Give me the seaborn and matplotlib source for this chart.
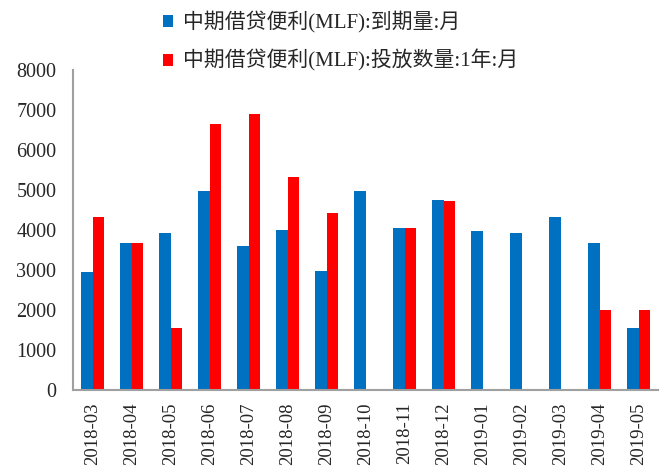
import numpy as np
import pandas as pd
import matplotlib
matplotlib.use("Agg")
import matplotlib.pyplot as plt
from matplotlib.patches import Patch
import seaborn as sns

months = ["2018-03", "2018-04", "2018-05", "2018-06", "2018-07", "2018-08", "2018-09",
          "2018-10", "2018-11", "2018-12", "2019-01", "2019-02", "2019-03", "2019-04", "2019-05"]
maturity = [2950, 3670, 3925, 4985, 3605, 3990, 2980, 4985, 4040, 4760, 3980, 3930, 4325, 3670, 1560]
issuance = [4325, 3670, 1560, 6640, 6910, 5320, 4415, np.nan, 4040, 4735, np.nan, np.nan, np.nan, 2000, 2000]
series_names = ["中期借贷便利(MLF):到期量:月", "中期借贷便利(MLF):投放数量:1年:月"]
colors = ["#0070C0", "#FF0000"]
yticks = [0, 1000, 2000, 3000, 4000, 5000, 6000, 7000, 8000]

sns.set_style("white")
plt.rcParams['font.family'] = ['Liberation Serif', 'Noto Sans CJK SC', 'DejaVu Sans']

df = pd.DataFrame({
    "month": months * 2,
    "value": list(maturity) + list(issuance),
    "series": [series_names[0]] * len(months) + [series_names[1]] * len(months),
})

fig = plt.figure(figsize=(6.62, 4.72), dpi=100)
ax = fig.add_axes([73 / 662, 1 - 390 / 472, (658 - 73) / 662, 320 / 472])

sns.barplot(data=df, x="month", y="value", hue="series", order=months,
            hue_order=series_names, palette=colors, width=0.57,
            saturation=1, edgecolor="none", linewidth=0, ax=ax, legend=False)

ax.set_xlim(-0.5, len(months) - 0.5)
ax.set_ylim(0, 8000)
ax.set_yticks(yticks)
ax.set_yticklabels([str(v) for v in yticks], fontsize=14.5)
ax.set_xlabel("")
ax.set_ylabel("")

ax.set_xticks(range(len(months)))
ax.set_xticklabels(months, rotation=90, fontsize=13.5, va="top")
ax.set_xticks(np.arange(-0.5, len(months), 1.0), minor=True)
ax.tick_params(axis="x", which="major", length=0, pad=9)
ax.tick_params(axis="x", which="minor", length=5, width=1.2, color="#A0A0A0", direction="out")
ax.tick_params(axis="y", which="major", length=4, width=1.2, color="#A0A0A0", direction="out", pad=8)

for s in ["top", "right"]:
    ax.spines[s].set_visible(False)
for s in ["left", "bottom"]:
    ax.spines[s].set_color("#A0A0A0")
    ax.spines[s].set_linewidth(1.5)

handles = [Patch(facecolor=c, edgecolor="none") for c in colors]
fig.legend(handles, series_names, loc="upper left",
           bbox_to_anchor=(163 / 662, 1 - 11 / 472), frameon=False, fontsize=15,
           handlelength=0.5, handleheight=0.5, handletextpad=0.45,
           labelspacing=0.81, borderpad=0, borderaxespad=0)

fig.savefig("out.png", dpi=100)
